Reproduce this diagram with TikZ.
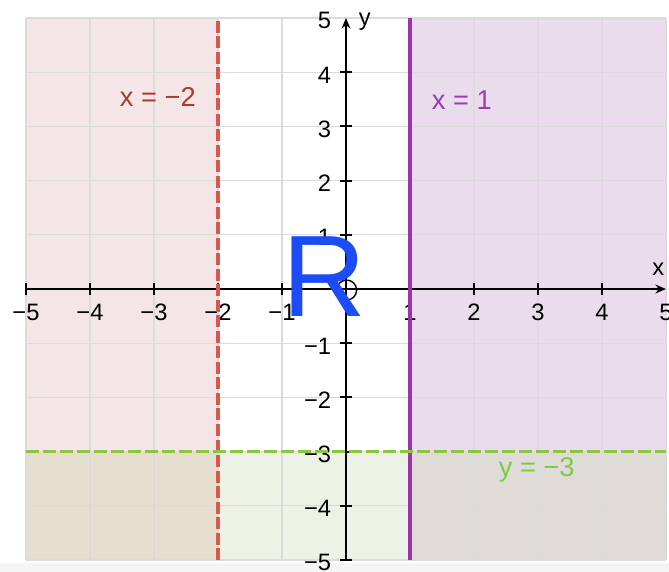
\documentclass[tikz,border=0pt]{standalone}
\usepackage{fontspec}
\setmainfont{Liberation Sans}
\usepackage{xcolor}
\usetikzlibrary{arrows.meta, positioning}

\definecolor{pinkfill}{HTML}{F4E6E6}
\definecolor{lilacfill}{HTML}{EADCEC}
\definecolor{mintfill}{HTML}{EDF2E6}
\definecolor{tanfill}{HTML}{E6DFD0}
\definecolor{greyfill}{HTML}{DFDBD7}
\definecolor{redline}{HTML}{D9574B}
\definecolor{purpleline}{HTML}{9C36A8}
\definecolor{greenline}{HTML}{8BC63F}
\definecolor{redtext}{HTML}{A83A32}
\definecolor{purpletext}{HTML}{9C3CAE}
\definecolor{greentext}{HTML}{7ACC4A}
\definecolor{rblue}{HTML}{1D4BF5}

\begin{document}
\begin{tikzpicture}[x=1.28cm, y=1.084cm, >={Stealth[length=6pt, width=5pt]},
    gridline/.style={draw=black!14, line width=0.6pt},
    axis/.style={line width=1.2pt, black},
    ticklabel/.style={font=\fontsize{13.5}{13.5}\selectfont, inner sep=1pt},
    eqnlabel/.style={font=\fontsize{15.5}{15.5}\selectfont, inner sep=1pt},
    boundary/.style={line width=1.8pt}]
    \useasboundingbox (-5.406,-5.221) rectangle (5.047,5.332);
    \fill[black!4] (-5.406,-5.221) rectangle (5.047,-5.05);

    % shaded regions
    \fill[pinkfill]  (-5,-3) rectangle (-2,5);
    \fill[lilacfill] (1,-3) rectangle (5,5);
    \fill[tanfill]   (-5,-5) rectangle (-2,-3);
    \fill[mintfill]  (-2,-5) rectangle (1,-3);
    \fill[greyfill]  (1,-5) rectangle (5,-3);

    % grid
    \foreach \i in {-5,...,5} {
        \draw[gridline] (\i,-5) -- (\i,5);
        \draw[gridline] (-5,\i) -- (5,\i);
    }

    % axes
    \coordinate (xmin) at (-5,0);
    \coordinate (xmax) at (5,0);
    \coordinate (ymin) at (0,-5);
    \coordinate (ymax) at (0,5);
    \draw[axis, ->] (xmin) -- (xmax);
    \draw[axis, ->] (ymin) -- (ymax);
    \foreach \i in {-5,...,4} {
        \draw[axis] (\i,-0.11) -- (\i,0.11);
        \draw[axis] (-0.1,\i) -- (0.1,\i);
    }
    \foreach \i/\t in {-5/−5,-4/−4,-3/−3,-2/−2,-1/−1,1/1,2/2,3/3,4/4,5/5} {
        \node[ticklabel] (xl\i) at (\i,-0.43) {\t};
        \node[ticklabel, anchor=east] (yl\i) at (-0.2,\i-0.05) {\t};
    }
    \node[ticklabel] (xname) at (4.88,0.37) {x};
    \node[ticklabel, anchor=west] (yname) at (0.17,4.93) {y};
    \node[draw, circle, line width=0.8pt, minimum size=0.4cm, inner sep=0pt] (origin) at (0.01,-0.02) {};

    % boundary lines
    \coordinate (red bottom) at (-2,-5);
    \coordinate (red top) at (-2,5);
    \coordinate (purple bottom) at (1,-5);
    \coordinate (purple top) at (1,5);
    \coordinate (green left) at (-5,-3);
    \coordinate (green right) at (5,-3);
    \draw[boundary, redline, dash pattern=on 0.24cm off 0.07cm] (red bottom) -- (red top);
    \draw[boundary, purpleline] (purple bottom) -- (purple top);
    \draw[boundary, greenline, dash pattern=on 0.26cm off 0.08cm] (green left) -- (green right);

    \node[eqnlabel, text=redtext] (redlabel) at (-2.94,3.54) {x = −2};
    \node[eqnlabel, text=purpletext] (purplelabel) at (1.81,3.49) {x = 1};
    \node[eqnlabel, text=greentext] (greenlabel) at (2.98,-3.33) {y = −3};

    % region label
    \node[text=rblue, font=\fontsize{66}{66}\selectfont, inner sep=0pt] (R) at (-0.34,0.22) {R};
\end{tikzpicture}
\end{document}
